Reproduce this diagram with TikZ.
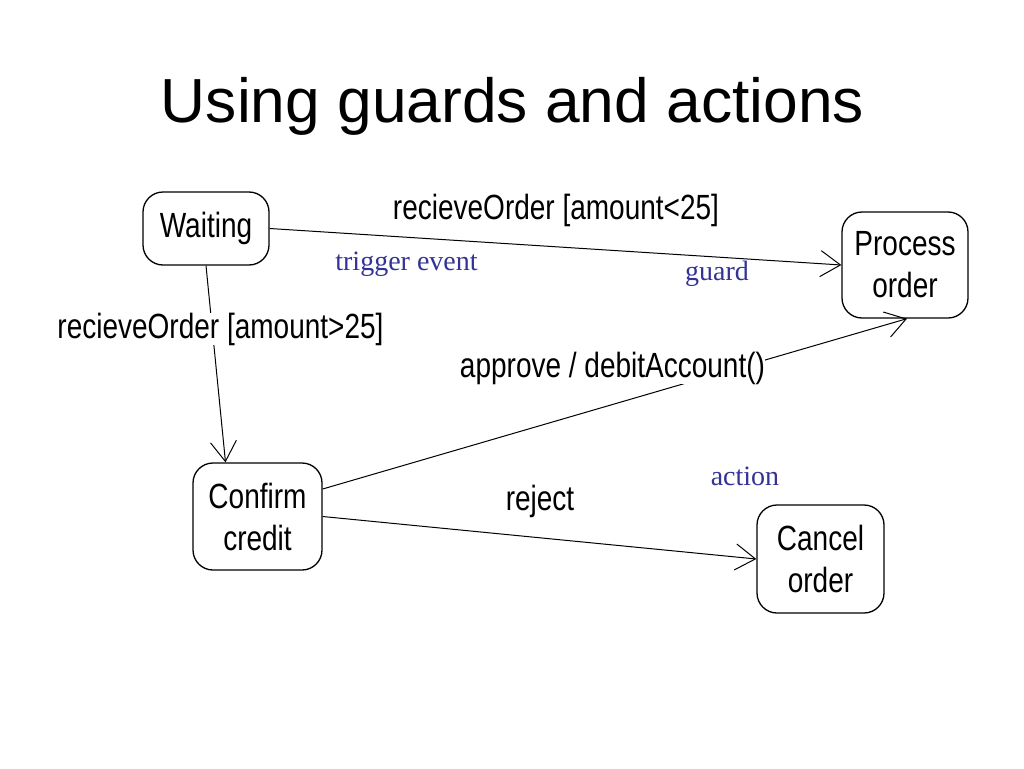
\documentclass[tikz,border=0pt]{standalone}
\usepackage{fontspec}
\setmainfont{Liberation Sans}
\newfontfamily\narrowfont[FakeStretch=0.8]{Liberation Sans}
\newfontfamily\notefont{Liberation Serif}
\usetikzlibrary{arrows.meta}
\definecolor{noteblue}{RGB}{51,51,150}
\begin{document}
\begin{tikzpicture}[x=1pt,y=-1pt,
  state/.style={draw, rounded corners=20pt, line width=1.3pt, inner sep=0pt,
    align=center, font=\narrowfont\fontsize{35}{42}\selectfont},
  trans/.style={line width=1pt, -{Straight Barb[length=20pt,width=26pt,line width=1pt]}},
  lbl/.style={anchor=base, inner sep=0pt, fill=white, font=\narrowfont\fontsize{35}{42}\selectfont},
  note/.style={anchor=base, inner sep=0pt, text=noteblue, font=\notefont\fontsize{28}{32}\selectfont}]
\useasboundingbox[fill=white] (0,0) rectangle (1024,768);
\node[anchor=base, inner sep=0pt, font=\fontsize{62.3}{70}\selectfont] (title) at (512.5,122) {Using guards and actions};
\node[state, minimum width=126pt, minimum height=73pt] (wait) at (206,228.5) {Waiting};
\node[state, minimum width=126pt, minimum height=106pt] (proc) at (905,265) {Process\\order};
\node[state, minimum width=129pt, minimum height=107pt] (conf) at (257.5,516.5) {Confirm\\credit};
\node[state, minimum width=127pt, minimum height=108pt] (canc) at (820.5,559) {Cancel\\order};
\draw[trans] (wait.east) -- (proc.west);
\draw[trans] (wait.south) -- ([xshift=-32pt]conf.north);
\draw[trans] ([yshift=27.5pt]conf.east) -- ([xshift=2pt]proc.south);
\draw[trans] (conf.east) -- (canc.west);
\node[lbl] (l1) at (556,219) {recieveOrder [amount<25]};
\node[lbl] (l2) at (220.5,338) {recieveOrder [amount>25]};
\node[lbl] (l3) at (612.5,377) {approve / debitAccount()};
\node[lbl] (l4) at (540,510) {reject};
\node[note] (n1) at (406.5,270) {trigger event};
\node[note] (n2) at (717,280) {guard};
\node[note] (n3) at (745,485) {action};
\end{tikzpicture}
\end{document}
